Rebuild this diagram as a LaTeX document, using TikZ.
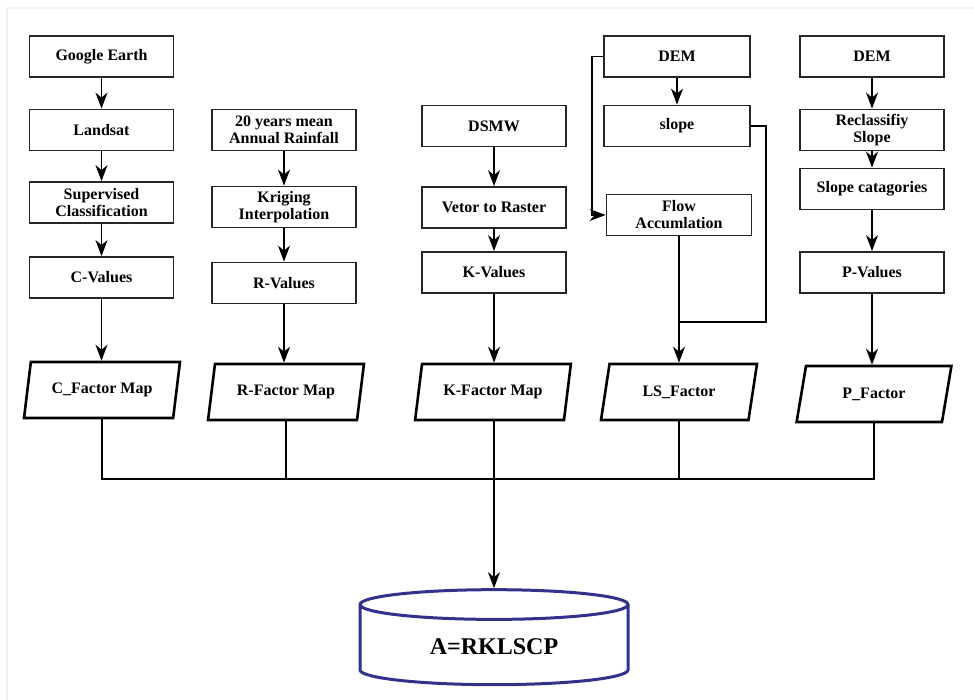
\documentclass[tikz,border=0pt]{standalone}
\usepackage{fontspec}
\setmainfont{Liberation Serif}
\usetikzlibrary{arrows.meta,shapes.geometric}
\definecolor{dbblue}{RGB}{48,50,140}

\begin{document}
\begin{tikzpicture}[x=1pt,y=-1pt,
		box/.style={draw=black!85,line width=1.8pt,minimum width=144pt,minimum height=41pt,
			align=center,inner sep=1pt,font=\fontsize{16}{17}\selectfont\bfseries},
		slantbox/.style={draw,line width=2.6pt,trapezium,trapezium left angle=76,trapezium right angle=104,
			trapezium stretches=true,minimum width=156pt,minimum height=56pt,
			font=\fontsize{16}{17}\selectfont\bfseries},
		arr/.style={-{Stealth[length=16pt,width=12pt,inset=5pt]},line width=1.5pt},
		ln/.style={line width=1.5pt}]
	\useasboundingbox (0,0) rectangle (974,700);
	\draw[gray!12,line width=1.5pt] (7,700)--(7,8)--(974,8);
	% C column
	\node[box] (ge) at (101.5,56.5) {Google Earth};
	\node[box] (landsat) at (101.5,130) {Landsat};
	\node[box] (superv) at (101.5,202.5) {Supervised\\Classification};
	\node[box] (cval) at (101.5,277.5) {C-Values};
	\node[slantbox] (cmap) at (102,390) {C\_Factor Map};
	% R column
	\node[box] (rain) at (284,130) {20 years mean\\Annual Rainfall};
	\node[box] (krig) at (284,207) {Kriging\\Interpolation};
	\node[box] (rval) at (284,283) {R-Values};
	\node[slantbox] (rmap) at (286,392) {R-Factor Map};
	% K column
	\node[box] (dsmw) at (494,126) {DSMW};
	\node[box] (vtr) at (494,207.5) {Vetor to Raster};
	\node[box] (kval) at (494,272.5) {K-Values};
	\node[slantbox] (kmap) at (493,392) {K-Factor Map};
	% LS column
	\node[box,minimum width=146pt] (dem) at (677,56.5) {DEM};
	\node[box,minimum width=146pt] (slope) at (677,126) {slope};
	\node[box,minimum width=145pt] (flow) at (679,215) {Flow\\Accumlation};
	\node[slantbox] (lsmap) at (679,392) {LS\_Factor};
	% P column
	\node[box] (demp) at (872,56.5) {DEM};
	\node[box] (recl) at (872,130) {Reclassifiy\\Slope};
	\node[box] (scat) at (872,189) {Slope catagories};
	\node[box] (pval) at (872,272.5) {P-Values};
	\node[slantbox] (pmap) at (874,394) {P\_Factor};
	% result
	\node[cylinder,shape border rotate=90,aspect=0.22,draw=dbblue,line width=3pt,
		minimum width=268pt,minimum height=95pt,font=\fontsize{24}{26}\selectfont\bfseries]
		(res) at (494,647) {A=RKLSCP};

	\draw[arr] (ge)--(landsat);
	\draw[arr] (landsat)--(superv);
	\draw[arr] (superv)--(cval);
	\draw[arr] (cval)--(cmap.north-|cval);
	\draw[arr] (rain)--(krig);
	\draw[arr] (krig)--(rval);
	\draw[arr] (rval)--(rmap.north-|rval);
	\draw[arr] (dsmw)--(vtr);
	\draw[arr] (vtr)--(kval);
	\draw[arr] (kval)--(kmap.north-|kval);
	\draw[arr] (dem)--(slope);
	\draw[arr] (dem.west)--++(-11,0)|-(flow.west);
	\coordinate (join) at (679,322);
	\draw[ln] (slope.east)-|(766,0|-join)--(join);
	\draw[arr] (flow)--(lsmap.north-|flow);
	\draw[arr] (demp)--(recl);
	\draw[arr] (recl)--(scat);
	\draw[arr] (scat)--(pval);
	\draw[arr] (pval)--(pmap.north-|pval);

	\coordinate (bus) at (494,479);
	\draw[ln] (cmap.south)|-(bus);
	\draw[ln] (pmap.south)|-(bus);
	\draw[ln] (rmap.south)--(rmap.south|-bus);
	\draw[ln] (lsmap.south)--(lsmap.south|-bus);
	\draw[ln] (kmap.south-|bus)--(bus);
	\draw[arr] (bus)--(res.north);
\end{tikzpicture}
\end{document}
